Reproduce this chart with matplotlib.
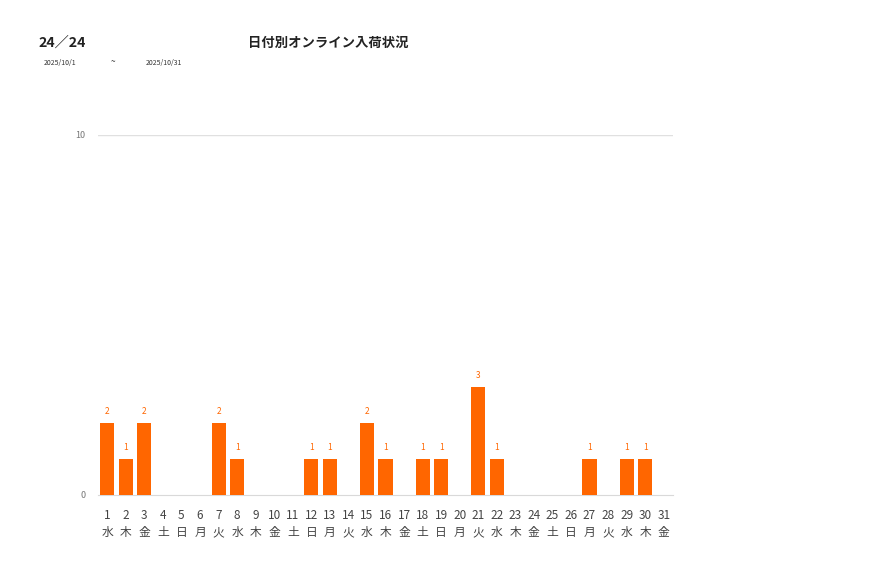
import matplotlib
matplotlib.use("Agg")
import matplotlib.pyplot as plt

plt.rcParams['font.family'] = ['Noto Sans CJK JP', 'DejaVu Sans']

# ── データ ───────────────────────────────
days = list(range(1, 32))
weekdays = ["水", "木", "金", "土", "日", "月", "火"] * 5
weekdays = weekdays[:31]
counts = [2, 1, 2, 0, 0, 0, 2, 1, 0, 0, 0, 1, 1, 0, 2, 1,
          0, 1, 1, 0, 3, 1, 0, 0, 0, 0, 1, 0, 1, 1, 0]

C_BAR = "#FF6600"

fig = plt.figure(figsize=(8.77, 5.78), dpi=100)
ax = fig.add_axes([98 / 877, 83 / 578, 575 / 877, 360 / 578])

x = list(range(len(days)))
ax.bar(x, counts, width=0.76, color=C_BAR, zorder=3)
for xi, c in zip(x, counts):
    if c > 0:
        ax.text(xi, c + 0.2, str(c), ha="center", va="bottom",
                fontsize=6, color=C_BAR)

ax.set_xlim(-0.5, len(days) - 0.5)
ax.set_ylim(0, 10)
ax.set_yticks([0, 10])
ax.set_yticklabels(["0", "10"], fontsize=6.5, color="#777777")
ax.set_xticks(x)
ax.set_xticklabels([f"{d}\n{w}" for d, w in zip(days, weekdays)],
                   fontsize=8.5, color="#444444", linespacing=1.45)
ax.tick_params(axis="both", length=0)
ax.tick_params(axis="x", pad=10)
ax.tick_params(axis="y", pad=9)
ax.axhline(10, color="#e0e0e0", lw=1, zorder=1)
for s in ["top", "right", "left"]:
    ax.spines[s].set_visible(False)
ax.spines["bottom"].set_color("#d9d9d9")

fig.text(38 / 877, 1 - 43 / 578, "24／24", fontsize=10.2, fontweight="bold",
         ha="left", va="center", color="#222222")
fig.text(328 / 877, 1 - 43 / 578, "日付別オンライン入荷状況", fontsize=9.6,
         fontweight="bold", ha="center", va="center", color="#222222")
fig.text(44 / 877, 1 - 63 / 578, "2025/10/1", fontsize=5, ha="left",
         va="center", color="#333333")
fig.text(113 / 877, 1 - 62 / 578, "~", fontsize=6, ha="center",
         va="center", color="#333333")
fig.text(146 / 877, 1 - 63 / 578, "2025/10/31", fontsize=5, ha="left",
         va="center", color="#333333")

fig.savefig("out.png", dpi=100, facecolor="white")
